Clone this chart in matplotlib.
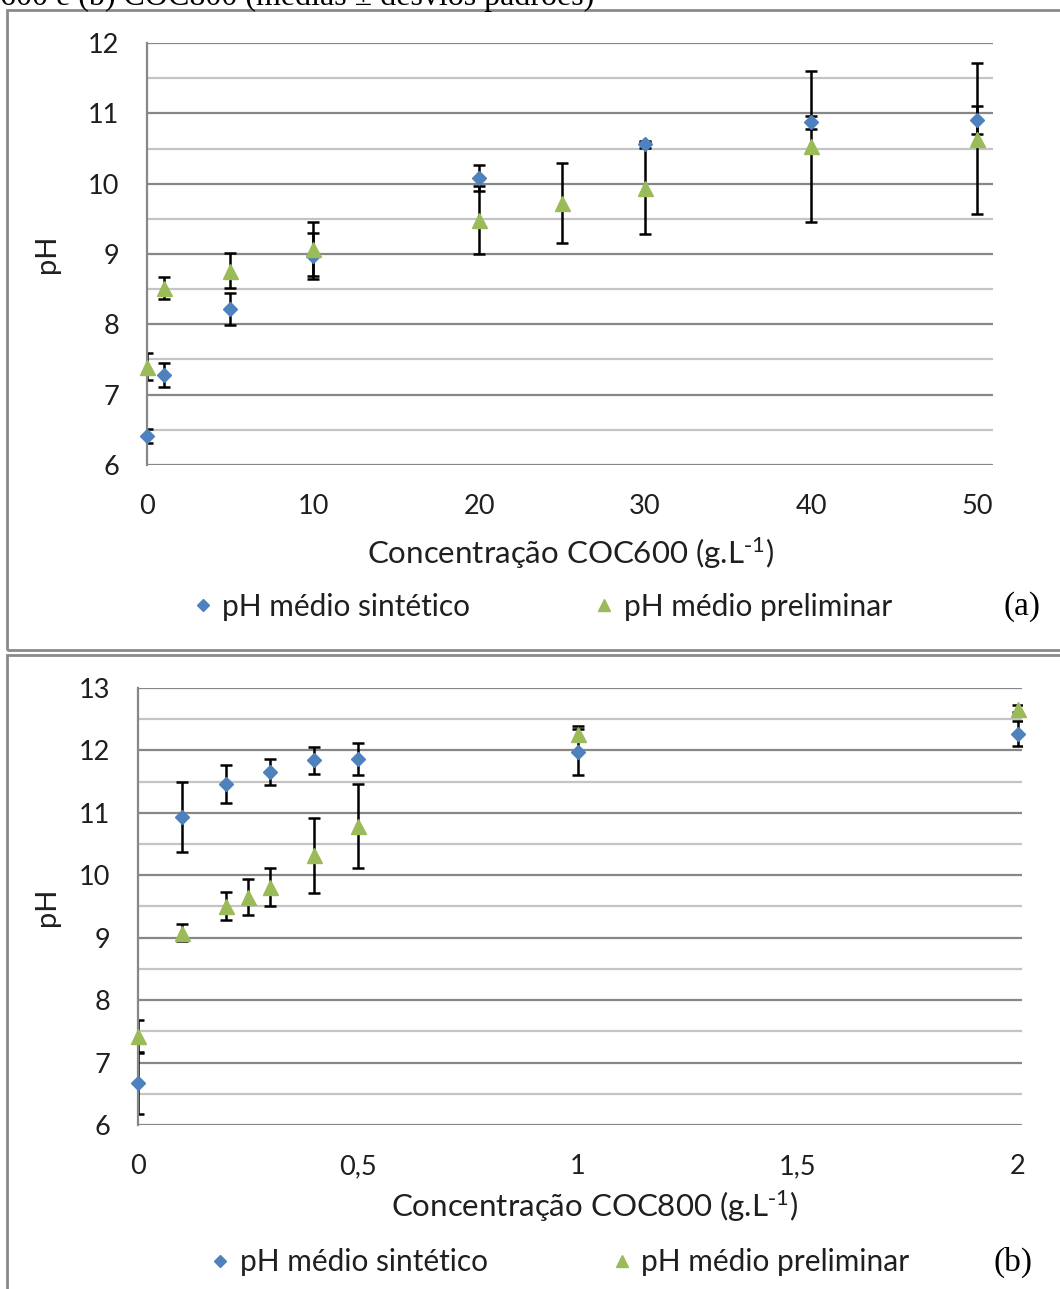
import numpy as np
import matplotlib
matplotlib.use('Agg')
import matplotlib.pyplot as plt
from matplotlib.patches import Rectangle

plt.rcParams['font.family'] = ['Lato', 'DejaVu Sans']
plt.rcParams['mathtext.default'] = 'regular'

# (a) COC600
a_x_sint = [0, 1, 5, 10, 20, 30, 40, 50]
a_y_sint = [6.41, 7.28, 8.22, 8.97, 10.08, 10.56, 10.87, 10.90]
a_e_sint = [0.10, 0.17, 0.23, 0.33, 0.18, 0.05, 0.09, 0.20]
a_x_prel = [0, 1, 5, 10, 20, 25, 30, 40, 50]
a_y_prel = [7.40, 8.52, 8.76, 9.07, 9.48, 9.72, 9.94, 10.53, 10.64]
a_e_prel = [0.19, 0.16, 0.25, 0.38, 0.48, 0.57, 0.65, 1.07, 1.07]
a_xticks = [0, 10, 20, 30, 40, 50]
a_xticklabels = ['0', '10', '20', '30', '40', '50']

# (b) COC800
b_x_sint = [0, 0.1, 0.2, 0.3, 0.4, 0.5, 1, 2]
b_y_sint = [6.67, 10.94, 11.46, 11.65, 11.84, 11.86, 11.98, 12.27]
b_e_sint = [0.50, 0.56, 0.30, 0.21, 0.22, 0.26, 0.37, 0.20]
b_x_prel = [0, 0.1, 0.2, 0.25, 0.3, 0.4, 0.5, 1, 2]
b_y_prel = [7.42, 9.08, 9.51, 9.65, 9.81, 10.32, 10.79, 12.27, 12.67]
b_e_prel = [0.26, 0.14, 0.22, 0.29, 0.30, 0.60, 0.67, 0.12, 0.05]
b_xticks = [0, 0.5, 1, 1.5, 2]
b_xticklabels = ['0', '0,5', '1', '1,5', '2']

BLUE = '#4f81bd'
GREEN = '#9bbb59'
TXT = '#1f1f1f'
W, H = 1060., 1289.


def px(x0, y0, x1, y1):
    # pixel box -> figure fraction [left, bottom, width, height]
    return [x0 / W, 1 - y1 / H, (x1 - x0) / W, (y1 - y0) / H]


def draw_panel(ax, xs, ys, es, xp, yp, ep, ylim, xlim, xticks, xlabels, xlabel, tag,
               xlab_pos, ylab_x, leg_pos, tag_pos):
    ax.errorbar(xs, ys, yerr=es, fmt='none', ecolor='black', elinewidth=1.8,
                capsize=4.5, capthick=1.8, zorder=2)
    ax.errorbar(xp, yp, yerr=ep, fmt='none', ecolor='black', elinewidth=1.8,
                capsize=4.5, capthick=1.8, zorder=2)
    ax.plot(xs, ys, 'D', color=BLUE, ms=7.5, ls='none', zorder=3, clip_on=False,
            label='pH médio sintético')
    ax.plot(xp, yp, '^', color=GREEN, ms=10.8, ls='none', zorder=4, clip_on=False,
            label='pH médio preliminar')

    ax.set_xlim(xlim)
    ax.set_ylim(ylim)
    ax.set_xticks(xticks)
    ax.set_xticklabels(xlabels)
    ax.set_yticks(np.arange(ylim[0], ylim[1] + 1))
    ax.set_yticks(np.arange(ylim[0] + 0.5, ylim[1], 1.0), minor=True)
    ax.grid(which='major', axis='y', color='#878787', lw=1.6)
    ax.grid(which='minor', axis='y', color='#c4c4c4', lw=1.6)
    ax.set_axisbelow(True)
    ax.tick_params(which='both', length=0, labelsize=19.5, colors=TXT)
    ax.tick_params(axis='y', pad=20)
    ax.tick_params(axis='x', pad=21)
    for s in ['top', 'right', 'bottom']:
        ax.spines[s].set_visible(False)
    ax.spines['left'].set_color('#878787')
    ax.spines['left'].set_linewidth(1.6)

    ax.set_ylabel('pH', fontsize=21, color=TXT)
    ax.yaxis.set_label_coords(ylab_x, 0.5)
    ax.set_xlabel(xlabel, fontsize=22.5, color=TXT, va='center')
    ax.xaxis.set_label_coords(*xlab_pos)

    ax.legend(loc='center left', bbox_to_anchor=leg_pos, ncol=2, frameon=False,
              fontsize=21.5, handletextpad=0.15, columnspacing=4.0, handlelength=1.0,
              borderpad=0, borderaxespad=0, markerscale=0.8, labelcolor=TXT)
    ax.text(tag_pos[0], tag_pos[1], tag, transform=ax.transAxes, fontsize=24,
            family='Liberation Serif', ha='center', va='center')


fig = plt.figure(figsize=(W / 100, H / 100), dpi=100)

# caption line, cut at the top edge as in the source page
fig.text(0.0, 1 - 5 / H, '600 e (b) COC800 (médias ± desvios padrões)',
         family='Liberation Serif', fontsize=23, ha='left', va='baseline')

fig.patches.append(Rectangle((7 / W, 1 - 650 / H), (1070 - 7) / W, 640 / H,
                             transform=fig.transFigure, fill=False,
                             ec='#8a8a8a', lw=2))
fig.patches.append(Rectangle((7 / W, -0.05), (1070 - 7) / W, 1 - 655 / H + 0.05,
                             transform=fig.transFigure, fill=False,
                             ec='#8a8a8a', lw=2))

ax1 = fig.add_axes(px(147, 43, 993, 465))
draw_panel(ax1, a_x_sint, a_y_sint, a_e_sint, a_x_prel, a_y_prel, a_e_prel,
           (6, 12), (0, 50.96), a_xticks, a_xticklabels,
           r'Concentração COC600 (g.L$^{\text{-}1}$)', '(a)',
           (0.5, -0.21), -0.103, (0.048, -0.336), (1.034, -0.336))

ax2 = fig.add_axes(px(138, 688, 1022, 1125))
draw_panel(ax2, b_x_sint, b_y_sint, b_e_sint, b_x_prel, b_y_prel, b_e_prel,
           (6, 13), (0, 2.009), b_xticks, b_xticklabels,
           r'Concentração COC800 (g.L$^{\text{-}1}$)', '(b)',
           (0.516, -0.186), -0.088, (0.076, -0.314), (0.99, -0.314))

fig.savefig('out.png', dpi=100)
